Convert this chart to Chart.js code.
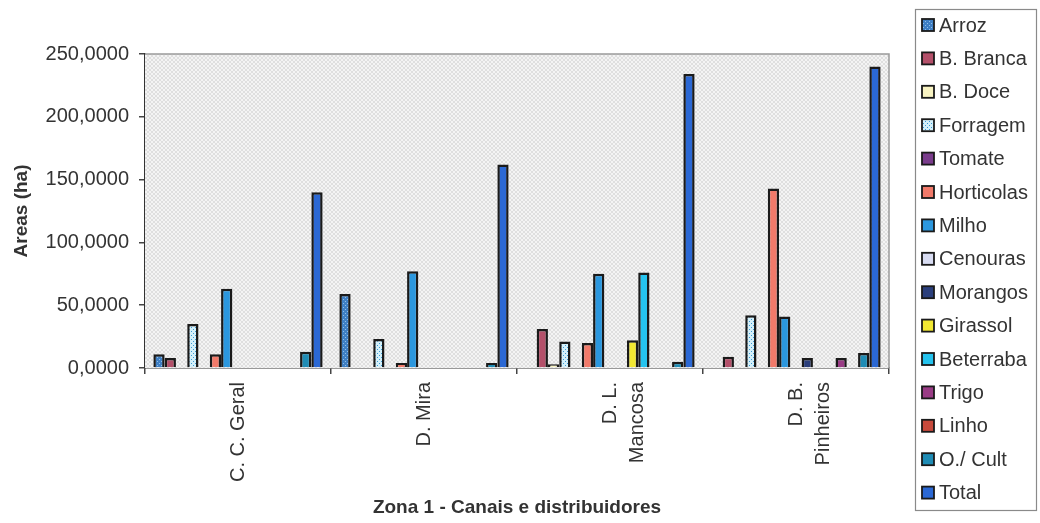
<!DOCTYPE html>
<html>
<head>
<meta charset="utf-8">
<script src="https://cdn.jsdelivr.net/npm/chart.js@4"></script>
<style>
  body { margin: 0; background: #fff; }
  canvas { display: block; }
</style>
</head>
<body>
<canvas id="chart" width="1040" height="523"></canvas>
<script>
const zonas = ['C. C. Geral', 'D. Mira', ['D. L.', 'Mancosa'], ['D. B.', 'Pinheiros']];
const yTicks = [0, 50, 100, 150, 200, 250];

const arroz = [11, 59, 0, 0];
const bBranca = [8, 0, 31, 9];
const bDoce = [0, 0, 3, 0];
const forragem = [35, 23, 21, 42];
const tomate = [0, 0, 0, 0];
const horticolas = [11, 4, 20, 143];
const milho = [63, 77, 75, 41];
const cenouras = [0, 0, 0, 0];
const morangos = [0, 0, 0, 8];
const girassol = [0, 0, 22, 0];
const beterraba = [0, 0, 76, 0];
const trigo = [0, 0, 0, 8];
const linho = [0, 0, 0, 0];
const oCult = [13, 4, 5, 12];
const total = [140, 162, 234, 240];

const fontName = "'Liberation Sans', Arial, sans-serif";

function dotPattern(base, dot) {
  const c = document.createElement('canvas');
  c.width = 4;
  c.height = 4;
  const g = c.getContext('2d');
  g.fillStyle = base;
  g.fillRect(0, 0, 4, 4);
  g.fillStyle = dot;
  g.fillRect(1, 1, 1, 1);
  g.fillRect(3, 3, 1, 1);
  return g.createPattern(c, 'repeat');
}

function hatchPattern() {
  const c = document.createElement('canvas');
  c.width = 4;
  c.height = 4;
  const g = c.getContext('2d');
  g.fillStyle = '#f4f4f4';
  g.fillRect(0, 0, 4, 4);
  g.strokeStyle = '#d6d6d6';
  g.lineWidth = 0.7;
  g.beginPath();
  g.moveTo(0, 0); g.lineTo(4, 4);
  g.moveTo(4, 0); g.lineTo(0, 4);
  g.stroke();
  return g.createPattern(c, 'repeat');
}

const series = [
  ['Arroz', arroz, dotPattern('#3f7fc4', '#8fc0ea')],
  ['B. Branca', bBranca, '#b4506a'],
  ['B. Doce', bDoce, '#f8f3c2'],
  ['Forragem', forragem, dotPattern('#d4f0fa', '#3b9ad6')],
  ['Tomate', tomate, '#7a3c8c'],
  ['Horticolas', horticolas, '#f27a6a'],
  ['Milho', milho, '#2b97de'],
  ['Cenouras', cenouras, '#d8dcf2'],
  ['Morangos', morangos, '#2b3f7c'],
  ['Girassol', girassol, '#f2e832'],
  ['Beterraba', beterraba, '#25c3ee'],
  ['Trigo', trigo, '#9a3c86'],
  ['Linho', linho, '#c84a3c'],
  ['O./ Cult', oCult, '#1f8cb5'],
  ['Total', total, '#2b68d4'],
];

const plotBackground = {
  id: 'plotBackground',
  beforeDatasetsDraw(chart) {
    const { ctx, chartArea: a } = chart;
    ctx.save();
    ctx.fillStyle = hatchPattern();
    ctx.fillRect(a.left, a.top, a.right - a.left, a.bottom - a.top);
    ctx.strokeStyle = '#9a9a9a';
    ctx.lineWidth = 1.5;
    ctx.beginPath();
    ctx.moveTo(a.left, a.top);
    ctx.lineTo(a.right, a.top);
    ctx.lineTo(a.right, a.bottom);
    ctx.stroke();
    ctx.restore();
  },
};

// legend box on the right, like the original spreadsheet one
const sideLegend = {
  id: 'sideLegend',
  afterDraw(chart) {
    const ctx = chart.ctx;
    ctx.save();
    ctx.strokeStyle = '#8a8a8a';
    ctx.lineWidth = 1.2;
    ctx.strokeRect(915.5, 9.5, 121, 501);
    ctx.font = '20px ' + fontName;
    ctx.textBaseline = 'middle';
    ctx.textAlign = 'left';
    chart.data.datasets.forEach((ds, i) => {
      const y = 25 + i * 33.4;
      ctx.fillStyle = ds.backgroundColor;
      ctx.fillRect(922, y - 6, 12, 12);
      ctx.strokeStyle = '#1a1a1a';
      ctx.lineWidth = 1.8;
      ctx.strokeRect(922, y - 6, 12, 12);
      ctx.fillStyle = '#333';
      ctx.fillText(ds.label, 939, y + 1);
    });
    ctx.restore();
  },
};

new Chart(document.getElementById('chart'), {
  type: 'bar',
  data: {
    labels: zonas,
    datasets: series.map(([label, values, color]) => ({
      label: label,
      data: values,
      backgroundColor: color,
      borderColor: '#1a1a1a',
      borderWidth: 2.5,
      categoryPercentage: 0.91,
      barPercentage: 1,
    })),
  },
  options: {
    responsive: false,
    animation: false,
    devicePixelRatio: 1,
    layout: { padding: { top: 54, right: 151, left: 0, bottom: 0 } },
    plugins: {
      legend: { display: false },
      tooltip: { enabled: false },
    },
    scales: {
      x: {
        afterFit: (scale) => { scale.height = 155; },
        grid: { drawOnChartArea: false, tickLength: 6, color: '#444', lineWidth: 1.5 },
        border: { color: '#333', width: 1.5 },
        ticks: {
          minRotation: 90,
          maxRotation: 90,
          padding: 8,
          color: '#333',
          font: { family: fontName, size: 20, lineHeight: 1.35 },
        },
        title: {
          display: true,
          text: 'Zona 1 - Canais e distribuidores',
          color: '#333',
          font: { family: fontName, size: 19, weight: 'bold' },
          padding: { top: 0, bottom: 4 },
        },
      },
      y: {
        min: 0,
        max: 250,
        afterFit: (scale) => { scale.width = 145; },
        afterBuildTicks: (scale) => { scale.ticks = yTicks.map((v) => ({ value: v })); },
        grid: { drawOnChartArea: false, tickLength: 6, color: '#444', lineWidth: 1.5 },
        border: { color: '#333', width: 1.5 },
        ticks: {
          padding: 10,
          color: '#333',
          font: { family: fontName, size: 20 },
          callback: (v) => v.toFixed(4).replace('.', ','),
        },
        title: {
          display: true,
          text: 'Areas (ha)',
          color: '#333',
          font: { family: fontName, size: 19, weight: 'bold' },
          padding: { top: 10, bottom: 0 },
        },
      },
    },
  },
  plugins: [plotBackground, sideLegend],
});
</script>
</body>
</html>
